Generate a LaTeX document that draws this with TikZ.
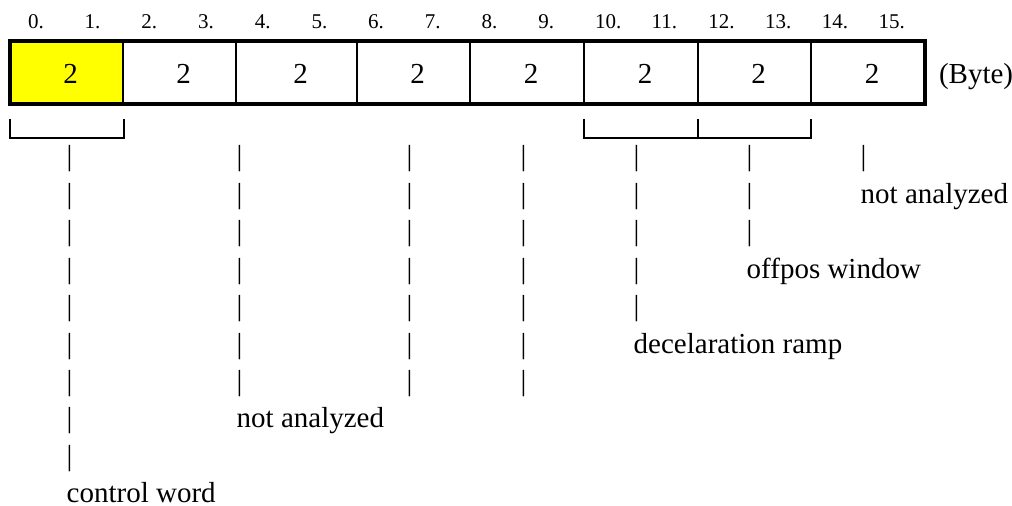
\documentclass[tikz,border=0pt]{standalone}
\usepackage{fontspec}
\setmainfont{Liberation Serif}

\tikzset{every picture/.style={line width=0.75pt}}
\tikzset{
  bigtxt/.style={inner sep=0pt, font=\fontsize{21.75}{26}\selectfont},
  idxtxt/.style={inner sep=0pt, anchor=base west, font=\fontsize{15.75}{19}\selectfont},
  bartxt/.style={bigtxt, anchor=base west},
}

\begin{document}
\begin{tikzpicture}[x=0.75pt,y=0.75pt,yscale=-1,xscale=1]
		\useasboundingbox (0,0) rectangle (1012,506);

		%Shape: Rectangle (yellow cell)
		\fill [fill={rgb, 255:red, 255; green, 255; blue, 0 }] (10,41) rectangle (123,104) ;
		%Straight Lines (cell dividers)
		\foreach \x in {123,236,357,470,584,698,811}
			\draw [line width=1.5pt] (\x,41) -- (\x,104) ;
		%Shape: Rectangle (frame)
		\draw [line width=3pt] (10,41) rectangle (925,104) ;

		%Brackets
		\draw [line width=1.7pt] (10,119) -- (10,138) -- (124,138) -- (124,119) ;
		\draw [line width=1.7pt] (584,119) -- (584,138) -- (811,138) -- (811,119) ;
		\draw [line width=1.7pt] (698,138) -- (698,119) ;

		% Text Nodes (byte index)
		\foreach \i in {0,...,15}
			\node [idxtxt] (idx\i) at ({27.5+56.7*\i},29) {\i.};

		% Text Nodes (cell sizes)
		\foreach \c [count=\k] in {66.5,179.5,296.5,413.5,527,641,754.5,868}
			\node [bigtxt, anchor=base] (cell\k) at (\c+4,84) {2};
		% Text Node
		\node [bigtxt, anchor=base west] (unit) at (938.5,84) {(Byte)};

		% Text Nodes (bars)
		\foreach \x/\n [count=\c] in {66.2/9,236.2/7,406.2/7,520.2/7,633.2/5,746.2/3,860.2/1}
			\foreach \r in {1,...,\n}
				\node [bartxt] (bar\c-\r) at (\x,{166+37.4*(\r-1)}) {|};

		% Text Node
		\node [bartxt] (ctrlword) at (66.2,{166+37.4*9}) {control word};
		% Text Node
		\node [bartxt] (notana) at (236.2,{166+37.4*7}) {not analyzed};
		% Text Node
		\node [bartxt] (decramp) at (633.2,{166+37.4*5}) {decelaration ramp};
		% Text Node
		\node [bartxt] (offpos) at (746.2,{166+37.4*3}) {offpos window};
		% Text Node
		\node [bartxt] (notanb) at (860.2,{166+37.4*1}) {not analyzed};

\end{tikzpicture}
\end{document}
